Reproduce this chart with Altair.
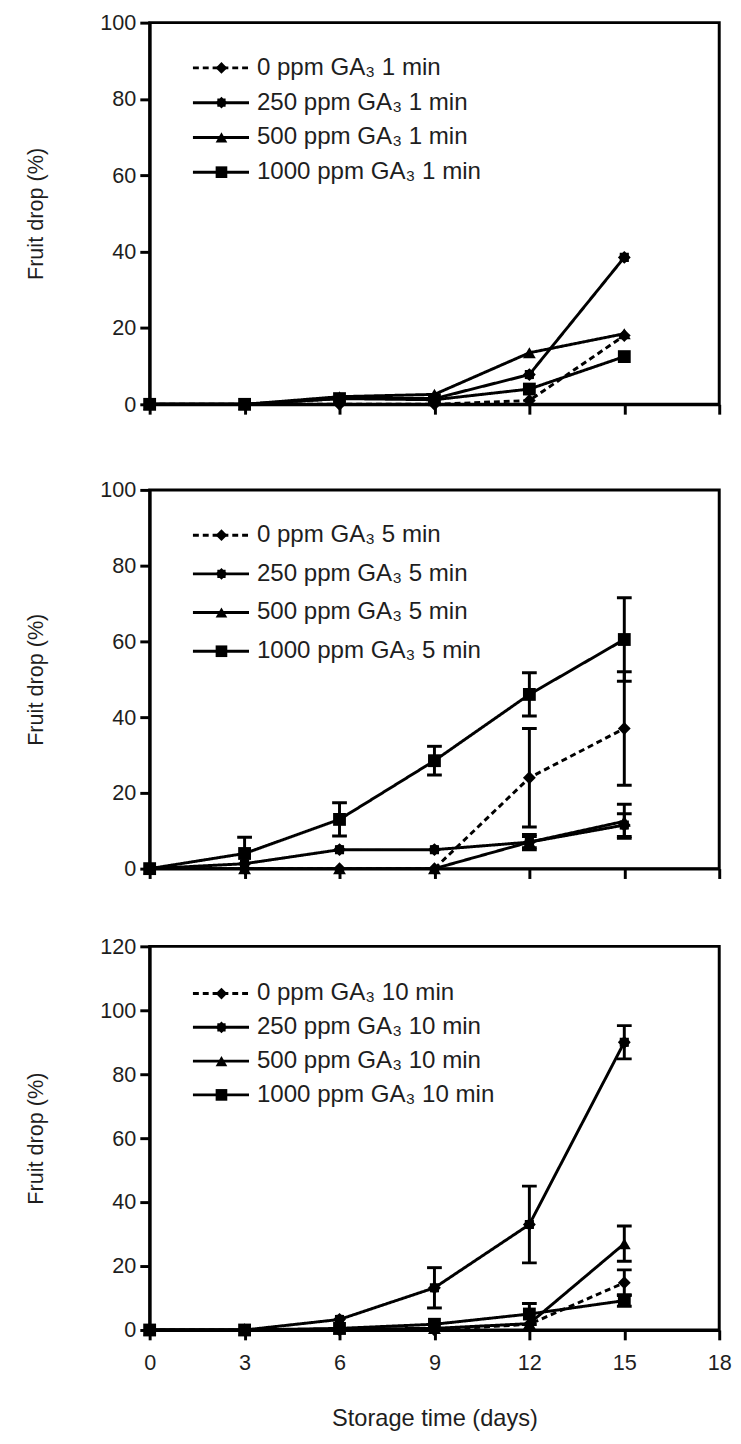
import math
import altair as alt
import pandas as pd

# ---------------- data ----------------
days = [0, 3, 6, 9, 12, 15]
series = ["0 ppm", "250 ppm", "500 ppm", "1000 ppm"]

# 1 min dip
m1_0 = [0, 0, 0, 0, 1.0, 18.0]
m1_250 = [0, 0, 1.5, 1.5, 7.8, 38.5]
m1_500 = [0, 0, 2.0, 2.6, 13.5, 18.5]
m1_1000 = [0, 0, 1.5, 1.2, 4.0, 12.5]

# 5 min dip
m5_0 = [0, 0, 0, 0, 24.0, 37.0]
m5_250 = [0, 1.3, 5.0, 5.0, 7.0, 11.5]
m5_500 = [0, 0, 0, 0, 7.0, 12.5]
m5_1000 = [0, 4.0, 13.0, 28.5, 46.0, 60.5]
e5_0 = [0, 0, 0, 0, 13.0, 15.0]
e5_250 = [0, 0, 0, 0, 2.0, 3.0]
e5_500 = [0, 0, 0, 0, 1.5, 4.5]
e5_1000 = [0, 4.3, 4.4, 3.8, 5.7, 11.0]

# 10 min dip
m10_0 = [0, 0, 0, 0, 1.8, 14.8]
m10_250 = [0, 0, 3.3, 13.2, 33.0, 90.0]
m10_500 = [0, 0, 0.3, 0.5, 2.0, 27.0]
m10_1000 = [0, 0, 0.5, 1.8, 5.0, 9.2]
e10_0 = [0, 0, 0, 0, 0, 4.0]
e10_250 = [0, 0, 0, 6.3, 12.0, 5.2]
e10_500 = [0, 0, 0, 0, 0, 5.5]
e10_1000 = [0, 0, 0, 0, 3.3, 1.8]

labels_1 = ["0 ppm GA₃ 1 min", "250 ppm GA₃ 1 min", "500 ppm GA₃ 1 min", "1000 ppm GA₃ 1 min"]
labels_5 = ["0 ppm GA₃  5 min", "250 ppm GA₃ 5 min", "500 ppm GA₃ 5 min", "1000 ppm GA₃ 5 min"]
labels_10 = ["0 ppm GA₃ 10 min", "250 ppm GA₃ 10 min", "500 ppm GA₃ 10 min", "1000 ppm GA₃ 10 min"]

x_ticks = [0, 3, 6, 9, 12, 15, 18]

# ---------------- styles ----------------
FONT = "Liberation Sans"
TXT = "#1e1e1e"

star_pts = []
for k in range(16):
    a = k * math.pi / 8 - math.pi / 2
    r = 1.0 if k % 2 == 0 else 0.78
    star_pts.append(f"{r * math.cos(a):.3f},{r * math.sin(a):.3f}")
STAR = "M" + "L".join(star_pts) + "Z"

shape_scale = alt.Scale(domain=series, range=["diamond", STAR, "triangle-up", "square"])
dash_scale = alt.Scale(domain=series, range=[[6, 4], [1, 0], [1, 0], [1, 0]])


def panel(means, errs, labels, ymax, height, rows_px, show_x):
    recs = []
    for s, vals, ee in zip(series, means, errs):
        for d, v, e in zip(days, vals, ee):
            recs.append({"series": s, "day": d, "drop": v, "err": e,
                         "lo": v - e, "hi": v + e})
    df = pd.DataFrame(recs)
    edf = df[df["err"] > 0]

    xscale = alt.Scale(domain=[0, 18], nice=False)
    xaxis = alt.Axis(values=x_ticks, labels=show_x, labelFlush=False,
                     title="Storage time (days)" if show_x else None,
                     titleFontSize=24)
    yscale = alt.Scale(domain=[0, ymax], nice=False)
    yaxis = alt.Axis(values=list(range(0, ymax + 1, 20)), title="Fruit drop (%)")

    x = alt.X("day:Q", scale=xscale, axis=xaxis)
    base = alt.Chart(df)

    lines = base.mark_line(strokeWidth=3, color="black").encode(
        x=x,
        y=alt.Y("drop:Q", scale=yscale, axis=yaxis),
        detail="series:N",
        strokeDash=alt.StrokeDash("series:N", scale=dash_scale, legend=None),
    )
    ebase = alt.Chart(edf)
    erule = ebase.mark_rule(strokeWidth=3, color="black", clip=True).encode(
        x=x, y=alt.Y("lo:Q", scale=yscale, axis=yaxis), y2="hi:Q"
    )
    cap_lo = ebase.mark_tick(orient="horizontal", size=15, thickness=3,
                             color="black", clip=True, opacity=1).encode(
        x=x, y=alt.Y("lo:Q", scale=yscale, axis=yaxis)
    )
    cap_hi = ebase.mark_tick(orient="horizontal", size=15, thickness=3,
                             color="black", clip=True, opacity=1).encode(
        x=x, y=alt.Y("hi:Q", scale=yscale, axis=yaxis)
    )
    pts = base.mark_point(filled=True, opacity=1, color="black", size=170).encode(
        x=x,
        y=alt.Y("drop:Q", scale=yscale, axis=yaxis),
        shape=alt.Shape("series:N", scale=shape_scale, legend=None),
    )
    main = alt.layer(lines, erule, cap_lo, cap_hi, pts)

    leg = pd.DataFrame({"series": series, "label": labels, "row": [0, 1, 2, 3]})
    ly = alt.Y("row:Q", scale=alt.Scale(domain=[0, 3], range=rows_px, nice=False, zero=False), axis=None)
    lb = alt.Chart(leg)
    leg_rule = lb.mark_rule(strokeWidth=3, color="black").encode(
        x=alt.value(44), x2=alt.value(101), y=ly,
        strokeDash=alt.StrokeDash("series:N", scale=dash_scale, legend=None),
    )
    leg_pts = lb.mark_point(filled=True, opacity=1, color="black", size=140).encode(
        x=alt.value(73), y=ly,
        shape=alt.Shape("series:N", scale=shape_scale, legend=None),
    )
    leg_txt = lb.mark_text(align="left", baseline="middle", fontSize=24.5,
                           font=FONT, color=TXT).encode(
        x=alt.value(109), y=ly, text="label:N"
    )
    legend = alt.layer(leg_rule, leg_pts, leg_txt)

    return alt.layer(main, legend).resolve_scale(y="independent").properties(
        width=579, height=height
    )


p1 = panel([m1_0, m1_250, m1_500, m1_1000], [[0] * 6] * 4, labels_1, 100, 388, [46, 152], False)
p2 = panel([m5_0, m5_250, m5_500, m5_1000], [e5_0, e5_250, e5_500, e5_1000], labels_5, 100, 385, [46, 164], False)
p3 = panel([m10_0, m10_250, m10_500, m10_1000], [e10_0, e10_250, e10_500, e10_1000], labels_10, 120, 390, [48, 151], True)

top = alt.vconcat(p1, p2, spacing=61)
chart = alt.vconcat(top, p3, spacing=53).configure(
    padding={"left": 15, "top": -10, "right": 0, "bottom": 0},
    font=FONT,
).configure_view(
    stroke="black", strokeWidth=3
).configure_axis(
    domainColor="black", domainWidth=3, tickColor="black", tickWidth=3,
    tickSize=10, labelFontSize=22, labelColor=TXT, labelFont=FONT,
    titleFontSize=22, titleFontWeight="normal", titleColor=TXT, titleFont=FONT,
    grid=False,
).configure_axisY(
    titlePadding=53, labelPadding=4
).configure_axisX(
    labelPadding=13, titlePadding=34
)

chart.save("out.html", embed_options={"renderer": "svg", "actions": False})
